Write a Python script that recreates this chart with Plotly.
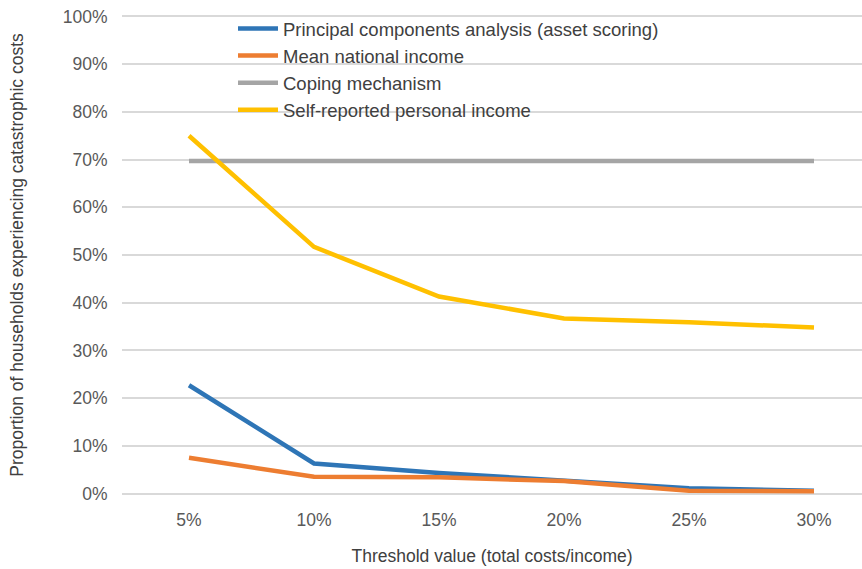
import plotly.graph_objects as go

thresholds = ["5%", "10%", "15%", "20%", "25%", "30%"]
pca = [22.7, 6.3, 4.3, 2.6, 1.1, 0.6]
mean_national = [7.5, 3.5, 3.4, 2.6, 0.6, 0.5]
coping = [69.7, 69.7, 69.7, 69.7, 69.7, 69.7]
self_reported = [75.0, 51.7, 41.3, 36.7, 35.9, 34.8]

series = [
    ("Principal components analysis (asset scoring)", pca, "#2E75B6"),
    ("Mean national income", mean_national, "#ED7D31"),
    ("Coping mechanism", coping, "#A5A5A5"),
    ("Self-reported personal income", self_reported, "#FFC000"),
]

fig = go.Figure()
for name, vals, color in series:
    fig.add_trace(go.Scatter(
        x=list(range(len(thresholds))), y=[v / 100 for v in vals], name=name,
        mode="lines", line=dict(color=color, width=4.5),
    ))

font = "Liberation Sans, Arial, sans-serif"
fig.update_layout(
    width=862, height=569,
    margin=dict(l=122, r=0, t=10, b=69),
    paper_bgcolor="white", plot_bgcolor="white",
    font=dict(family=font, size=17.5, color="#595959"),
    showlegend=True,
    legend=dict(
        x=0.15, y=1.0, xanchor="left", yanchor="top",
        bgcolor="rgba(255,255,255,0)", font=dict(size=18.5, color="#404040"),
        itemwidth=40, tracegroupgap=0,
    ),
    xaxis=dict(
        range=[-0.536, 5.384], tickmode="array",
        tickvals=list(range(len(thresholds))), ticktext=thresholds,
        showgrid=False, zeroline=False, showline=False,
        ticks="outside", ticklen=4, tickcolor="rgba(0,0,0,0)",
        title=dict(text="Threshold value (total costs/income)", standoff=20,
                   font=dict(size=17.5, color="#404040")),
    ),
    yaxis=dict(
        range=[-0.0136, 1.0136], tickmode="array",
        tickvals=[i / 10 for i in range(11)], tickformat=".0%",
        showgrid=True, gridcolor="#D9D9D9", gridwidth=1.5,
        zeroline=False, showline=False,
        ticks="outside", ticklen=10, tickcolor="rgba(0,0,0,0)",
        title=dict(text="Proportion of households experiencing catastrophic costs",
                   standoff=34, font=dict(size=17.5, color="#404040")),
    ),
)

fig.write_html("out.html")
